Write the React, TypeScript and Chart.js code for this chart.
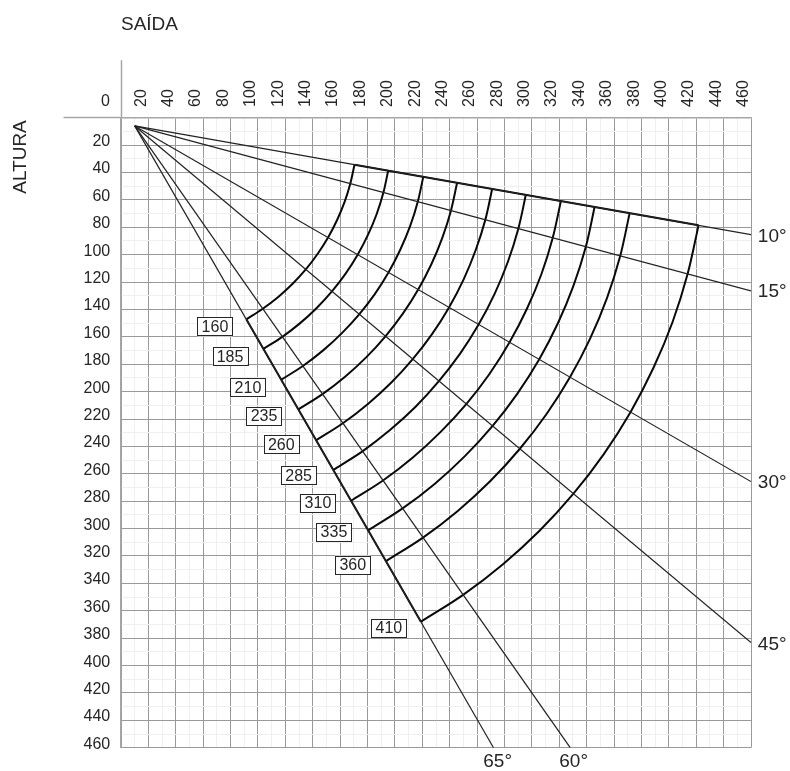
import React, { useEffect, useRef } from "react";
import { Chart, registerables } from "chart.js";

Chart.register(...registerables);

type Pt = [number, number];

const FONT = '"Liberation Sans", Arial, sans-serif';
const INK = "#262626";

const rayOrigin: Pt = [10, 6];
const rayEnds: Pt[] = [
  [460, 85.4],
  [460, 126.5],
  [460, 265.7],
  [460, 383.2],
  [328, 460],
  [272, 460],
];
const upperEdge: Pt[] = [[170.5, 34.3], [421.7, 78.6]];
const lowerEdge: Pt[] = [[91.5, 147.2], [219.0, 368.0]];

const arc160: Pt[] = [[170.5, 34.3], [167.4, 48.2], [163.2, 61.7], [157.7, 74.9], [151.2, 87.5], [143.5, 99.5], [134.9, 110.8], [125.3, 121.3], [114.8, 130.9], [103.5, 139.5], [91.5, 147.2]];
const arc185: Pt[] = [[195.1, 38.6], [191.6, 54.7], [186.7, 70.3], [180.4, 85.4], [172.8, 100.0], [164.0, 113.8], [154.0, 126.8], [142.9, 138.9], [130.8, 150.0], [117.8, 160.0], [104.0, 168.8]];
const arc210: Pt[] = [[220.7, 43.2], [216.7, 61.4], [211.1, 79.2], [203.9, 96.4], [195.3, 113.0], [185.3, 128.8], [173.9, 143.6], [161.3, 157.3], [147.6, 169.9], [132.8, 181.3], [117.0, 191.3]];
const arc235: Pt[] = [[245.4, 47.5], [240.9, 67.9], [234.6, 87.7], [226.6, 107.0], [217.0, 125.5], [205.8, 143.1], [193.1, 159.6], [179.0, 175.0], [163.6, 189.1], [147.1, 201.8], [129.5, 213.0]];
const arc260: Pt[] = [[271.0, 52.0], [266.0, 74.6], [259.0, 96.6], [250.2, 118.0], [239.5, 138.5], [227.1, 158.0], [213.0, 176.3], [197.4, 193.4], [180.3, 209.0], [162.0, 223.1], [142.5, 235.5]];
const arc285: Pt[] = [[295.6, 56.3], [290.1, 81.1], [282.5, 105.2], [272.8, 128.6], [261.1, 151.0], [247.6, 172.3], [232.1, 192.4], [215.1, 211.1], [196.4, 228.1], [176.3, 243.6], [155.0, 257.1]];
const arc310: Pt[] = [[321.2, 60.9], [315.2, 87.8], [307.0, 114.1], [296.4, 139.5], [283.7, 164.0], [268.9, 187.3], [252.1, 209.1], [233.4, 229.4], [213.1, 248.1], [191.3, 264.9], [168.0, 279.7]];
const arc335: Pt[] = [[345.8, 65.2], [339.4, 94.3], [330.4, 122.6], [319.0, 150.1], [305.3, 176.5], [289.3, 201.6], [271.2, 225.2], [251.1, 247.1], [229.2, 267.2], [205.6, 285.3], [180.5, 301.3]];
const arc360: Pt[] = [[371.4, 69.7], [364.5, 101.0], [354.9, 131.5], [342.6, 161.1], [327.8, 189.5], [310.6, 216.5], [291.1, 241.9], [269.5, 265.5], [245.9, 287.1], [220.5, 306.6], [193.5, 323.8]];
const arc410: Pt[] = [[421.7, 78.6], [413.7, 114.2], [402.8, 149.0], [388.8, 182.6], [372.0, 215.0], [352.4, 245.8], [330.2, 274.7], [305.6, 301.6], [278.7, 326.2], [249.8, 348.4], [219.0, 368.0]];
const arcs: Pt[][] = [arc160, arc185, arc210, arc235, arc260, arc285, arc310, arc335, arc360, arc410];

const boxLabels = ["160", "185", "210", "235", "260", "285", "310", "335", "360", "410"];
const boxAnchors: Pt[] = [
  [68.6, 152.8], [79.6, 174.5], [92.7, 197.3], [104.4, 218.0], [117.0, 238.8],
  [129.7, 261.6], [143.8, 281.5], [155.5, 302.9], [169.2, 326.6], [195.6, 372.7],
];

const angleLabels = ["10°", "15°", "30°", "45°", "60°", "65°"];
const angleAnchors: Pt[] = [
  [465, 86.6], [465, 127.4], [465, 266.8], [465, 384.5], [320, 470], [264.5, 470],
];

const toXY = (p: Pt) => ({ x: p[0], y: p[1] });

const textPlugin = {
  id: "chartTexts",
  afterDraw(chart: any) {
    const { ctx, scales } = chart;
    const sx = scales.x;
    const sy = scales.y;
    ctx.save();
    ctx.textBaseline = "middle";

    ctx.font = `16px ${FONT}`;
    boxLabels.forEach((label, i) => {
      const cx = sx.getPixelForValue(boxAnchors[i][0]);
      const cy = sy.getPixelForValue(boxAnchors[i][1]);
      ctx.fillStyle = "#ffffff";
      ctx.fillRect(cx - 17.5, cy - 9.5, 35, 19);
      ctx.strokeStyle = "#262626";
      ctx.lineWidth = 1;
      ctx.strokeRect(Math.round(cx - 17.5) + 0.5, Math.round(cy - 9.5) + 0.5, 35, 18);
      ctx.fillStyle = INK;
      ctx.textAlign = "center";
      ctx.fillText(label, cx, cy + 0.5);
    });

    ctx.font = `19px ${FONT}`;
    ctx.textAlign = "left";
    ctx.fillStyle = INK;
    angleLabels.forEach((label, i) => {
      ctx.fillText(label, sx.getPixelForValue(angleAnchors[i][0]), sy.getPixelForValue(angleAnchors[i][1]));
    });

    ctx.font = `16px ${FONT}`;
    ctx.textAlign = "right";
    ctx.fillText("0", sx.left - 11, sy.top - 16);

    ctx.font = `19px ${FONT}`;
    ctx.textAlign = "left";
    ctx.fillText("SAÍDA", 121, 25);

    ctx.translate(21, 157);
    ctx.rotate(-Math.PI / 2);
    ctx.textAlign = "center";
    ctx.fillText("ALTURA", 0, 0);
    ctx.restore();
  },
};

const axisOptions = (fit: (s: any) => void, rotated: boolean) => ({
  type: "linear",
  min: 0,
  max: 460,
  afterFit: fit,
  border: { color: "#a6a6a6", width: 1.5 },
  grid: {
    color: (c: any) =>
      c.tick && Math.round(c.tick.value) % 20 === 0 ? "#999999" : "#efefef",
    tickColor: (c: any) => (c.tick && c.tick.value === 0 ? "#a6a6a6" : "rgba(0,0,0,0)"),
    tickLength: 57.5,
    lineWidth: 1,
    tickWidth: 1.5,
    drawTicks: true,
  },
  ticks: {
    stepSize: 10,
    autoSkip: false,
    color: INK,
    font: { family: FONT, size: 16 },
    padding: -46.7,
    labelOffset: rotated ? 12 : -3.4,
    minRotation: rotated ? 90 : 0,
    maxRotation: rotated ? 90 : 0,
    callback: (v: any) => (v !== 0 && v % 20 === 0 ? String(v) : ""),
  },
});

export default function App() {
  const ref = useRef<HTMLCanvasElement | null>(null);

  useEffect(() => {
    if (!ref.current) return;
    const line = (points: Pt[], width: number, tension: number, color: string) => ({
      data: points.map(toXY),
      showLine: true,
      borderColor: color,
      borderWidth: width,
      pointRadius: 0,
      tension,
      fill: false,
    });
    const chart = new Chart(ref.current, {
      type: "scatter",
      data: {
        datasets: [
          ...rayEnds.map((end) => line([rayOrigin, end], 1.2, 0, "#222222")),
          ...arcs.map((a) => line(a, 2, 0.33, "#0a0a0a")),
          line(upperEdge, 2, 0, "#0a0a0a"),
          line(lowerEdge, 2, 0, "#0a0a0a"),
        ],
      } as any,
      options: {
        responsive: false,
        animation: false,
        layout: { padding: { left: 0, top: 0, right: 39, bottom: 23.3 } },
        plugins: { legend: { display: false }, tooltip: { enabled: false } },
        scales: {
          x: {
            ...axisOptions((s: any) => { s.height = 117.7; }, true),
            position: "top",
          },
          y: {
            ...axisOptions((s: any) => { s.width = 121; }, false),
            position: "left",
            reverse: true,
          },
        } as any,
      },
      plugins: [textPlugin],
    });
    return () => chart.destroy();
  }, []);

  return (
    <canvas
      ref={ref}
      width={790}
      height={771}
      style={{ position: "fixed", left: 0, top: 0, width: 790, height: 771, display: "block" }}
    />
  );
}
